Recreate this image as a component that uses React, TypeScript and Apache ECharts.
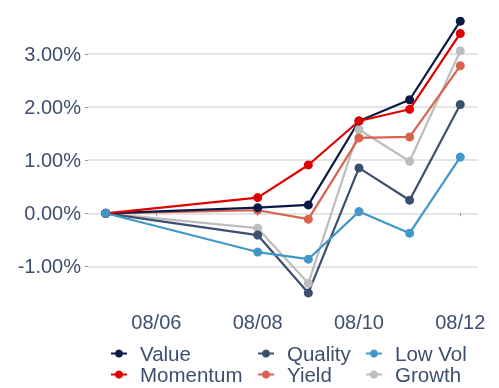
import React, { useEffect, useRef } from "react";
import * as echarts from "echarts";

const dates = ["2024-08-05", "2024-08-08", "2024-08-09", "2024-08-10", "2024-08-11", "2024-08-12"];
const valueData = [0, 0.107, 0.158, 1.74, 2.14, 3.62];
const momentumData = [0, 0.296, 0.911, 1.74, 1.96, 3.39];
const qualityData = [0, -0.41, -1.5, 0.855, 0.247, 2.05];
const yieldData = [0, 0.058, -0.11, 1.42, 1.44, 2.78];
const lowVolData = [0, -0.73, -0.865, 0.032, -0.375, 1.06];
const growthData = [0, -0.28, -1.32, 1.58, 0.98, 3.06];
const yTicks = [-1, 0, 1, 2, 3];
const xTicks = ["2024-08-06", "2024-08-08", "2024-08-10", "2024-08-12"];

const DAY = 86400000;
const toDay = (s: string) => {
  const [y, m, d] = s.split("-").map(Number);
  return Date.UTC(y, m - 1, d) / DAY;
};

const TEXT = "#3e4f6d";
const FONT = "Liberation Sans, Arial, sans-serif";

export default function App() {
  const ref = useRef<HTMLDivElement>(null);
  useEffect(() => {
    const chart = echarts.init(ref.current!, null, { renderer: "svg" });
    const xs = dates.map(toDay);
    const mk = (name: string, color: string, data: number[]) => ({
      name,
      type: "line",
      data: data.map((v, i) => [xs[i], v]),
      symbol: "circle",
      symbolSize: 9,
      showSymbol: true,
      lineStyle: { width: 2.2, color },
      itemStyle: { color },
      color,
    });
    const series = [
      mk("Growth", "#bdbdbd", growthData),
      mk("Yield", "#d9634f", yieldData),
      mk("Quality", "#3b4f6e", qualityData),
      mk("Value", "#0b1a45", valueData),
      mk("Momentum", "#e00000", momentumData),
      mk("Low Vol", "#4097c8", lowVolData),
    ];
    const all = [...valueData, ...momentumData, ...qualityData, ...yieldData, ...lowVolData, ...growthData];
    const dmin = Math.min(...all);
    const dmax = Math.max(...all);
    const pad = (dmax - dmin) * 0.05;
    const xPad = (xs[xs.length - 1] - xs[0]) * 0.05;
    const legendBase = {
      orient: "vertical",
      top: 343,
      height: 45,
      padding: 0,
      itemGap: 0,
      itemWidth: 16,
      itemHeight: 10,
      textStyle: { color: TEXT, fontSize: 20.5, fontFamily: FONT, lineHeight: 19, padding: [0, 0, 0, 8] },
    };
    chart.setOption({
      animation: false,
      grid: { left: 88, right: 21, top: 7.6, bottom: 81.5, containLabel: false },
      xAxis: {
        type: "value",
        min: xs[0] - xPad,
        max: xs[xs.length - 1] + xPad,
        axisLine: { show: false },
        axisTick: { show: true, length: 3, lineStyle: { color: "#999" }, customValues: xTicks.map(toDay) },
        axisLabel: {
          customValues: xTicks.map(toDay),
          color: TEXT,
          fontSize: 20,
          fontFamily: FONT,
          margin: 5,
          formatter: (v: number) => {
            const d = new Date(Math.round(v) * DAY);
            return String(d.getUTCMonth() + 1).padStart(2, "0") + "/" + String(d.getUTCDate()).padStart(2, "0");
          },
        },
        splitLine: { show: false },
      },
      yAxis: {
        type: "value",
        min: dmin - pad,
        max: dmax + pad,
        axisLine: { show: false },
        axisTick: { show: true, length: 3, lineStyle: { color: "#999" }, customValues: yTicks },
        axisLabel: {
          customValues: yTicks,
          color: TEXT,
          fontSize: 20,
          fontFamily: FONT,
          margin: 7,
          formatter: (v: number) => v.toFixed(2) + "%",
        },
        splitLine: { show: true, lineStyle: { color: "#dcdcdc", width: 1.5 } },
      },
      legend: [
        { ...legendBase, left: 110, data: ["Value", "Momentum"] },
        { ...legendBase, left: 257, data: ["Quality", "Yield"] },
        { ...legendBase, left: 365, data: ["Low Vol", "Growth"] },
      ],
      series,
    });
    return () => chart.dispose();
  }, []);
  return <div ref={ref} style={{ position: "fixed", left: 0, top: 0, width: 499, height: 388 }} />;
}
